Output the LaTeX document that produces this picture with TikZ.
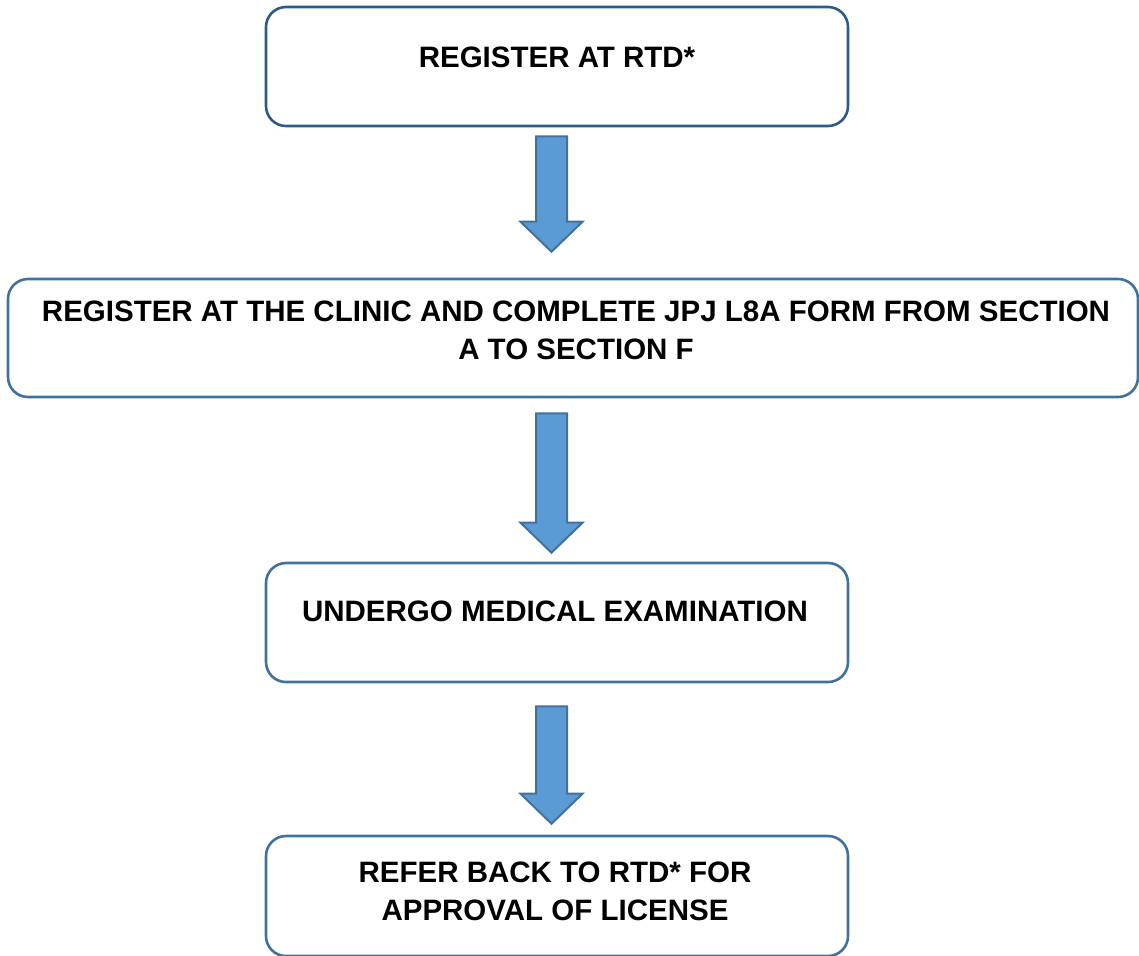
\documentclass[tikz,border=0pt]{standalone}
\usepackage{fontspec}
\setmainfont{Liberation Sans}
\usetikzlibrary{calc, positioning}

\definecolor{boxline}{HTML}{41719C}
\definecolor{topline}{HTML}{2E5A87}
\definecolor{arrfill}{HTML}{5B9BD5}
\definecolor{arrline}{HTML}{41719C}

\tikzset{
  stepbox/.style={draw=boxline, line width=1.3pt, rounded corners=10pt, inner sep=0pt},
  steptext/.style={font=\fontsize{14.75}{19}\selectfont\bfseries, align=center, inner sep=0pt},
}

% block arrow between two boxes: from box #1, to box #2, gap below #1, gap above #2
\newcommand{\blockarr}[4]{%
  \draw [fill=arrfill, draw=arrline, line width=1pt, line join=miter]
    ($(axis |- #1.south)+(-15.5,#3)$) -- ($(axis |- #1.south)+(15.5,#3)$)
    -- ($(axis |- #2.north)+(15.5,-#4-30)$) -- ($(axis |- #2.north)+(31,-#4-30)$)
    -- ($(axis |- #2.north)+(0,-#4)$)
    -- ($(axis |- #2.north)+(-31,-#4-30)$) -- ($(axis |- #2.north)+(-15.5,-#4-30)$) -- cycle;
}

\begin{document}
\begin{tikzpicture}[x=0.5pt, y=-0.5pt]
  \useasboundingbox (0,0) rectangle (1139,955);
  \coordinate (axis) at (551.5,0);

  \node [stepbox, draw=topline, minimum width=291pt, minimum height=59.5pt] (reg) at (557,66.5) {};
  \node [stepbox, minimum width=565pt, minimum height=59pt] (clinic) at (573,338) {};
  \node [stepbox, minimum width=291pt, minimum height=59.5pt] (exam) at (557,622.5) {};
  \node [stepbox, minimum width=291pt, minimum height=60pt] (refer) at (557,896) {};

  \node [steptext] (regtext) at (557,57) {REGISTER AT RTD*};
  \node [steptext] (clinictext) at (576,330) {REGISTER AT THE CLINIC AND COMPLETE JPJ L8A FORM FROM SECTION\\A TO SECTION F};
  \node [steptext] (examtext) at (555,611) {UNDERGO MEDICAL EXAMINATION};
  \node [steptext] (refertext) at (555,891) {REFER BACK TO RTD* FOR\\APPROVAL OF LICENSE};

  \blockarr{reg}{clinic}{9}{26}
  \blockarr{clinic}{exam}{15}{9}
  \blockarr{exam}{refer}{23}{11}
\end{tikzpicture}
\end{document}
